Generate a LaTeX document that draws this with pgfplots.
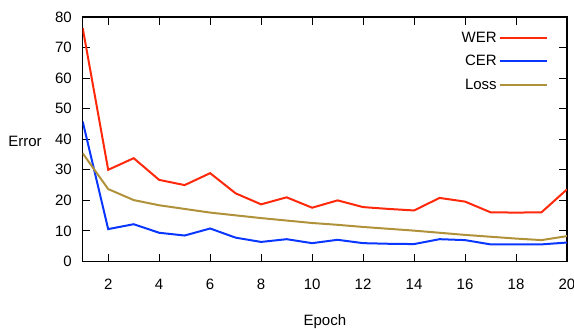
\documentclass[border=0pt]{standalone}
\usepackage{pgfplots}
\pgfplotsset{compat=1.18}
\usepackage{fontspec}
\setmainfont{Liberation Sans}
\definecolor{werc}{RGB}{255,40,10}
\definecolor{cerc}{RGB}{10,55,255}
\definecolor{lossc}{RGB}{176,146,58}
\newcommand{\ff}{\fontsize{15}{18}\selectfont}
\begin{document}
\begin{tikzpicture}[x=1pt,y=1pt]
\path[use as bounding box] (0,0) rectangle (574,329);
\begin{axis}[
  at={(82.7pt,67.5pt)}, anchor=south west,
  scale only axis, width=484.3pt, height=244.5pt,
  xmin=1, xmax=20, ymin=0, ymax=80,
  xtick={2,4,...,20}, ytick={0,10,...,80},
  tick align=inside, major tick length=7.5pt,
  axis line style={line width=1.1pt},
  every tick/.style={line width=0.9pt, black},
  font=\ff,
  /pgf/number format/assume math mode=true,
  ticklabel style={inner sep=0pt, font=\ff},
  xticklabel style={anchor=center, yshift=-22.5pt},
  yticklabel style={anchor=east, xshift=-10.7pt},
  xlabel={Epoch}, ylabel={Error},
  xlabel style={at={(axis description cs:0.5,-0.247)}, anchor=center, font=\ff, inner sep=0pt},
  ylabel style={at={(axis description cs:-0.119,0.49)}, anchor=center, rotate=-90, font=\ff, inner sep=0pt},
  legend plot pos=right,
  legend cell align=right,
  legend image code/.code={\draw[#1] (0pt,0pt) -- (47pt,0pt);},
  legend style={draw=none, fill=none, at={(axis cs:19.37,76.5)}, anchor=north east,
    font=\ff, row sep=7.6pt},
]
\addplot[color=werc, line width=2pt] coordinates {
(1,76.4)(2,30.0)(3,33.8)(4,26.7)(5,25.0)(6,28.9)(7,22.3)(8,18.7)(9,21.0)(10,17.6)
(11,20.0)(12,17.8)(13,17.2)(14,16.7)(15,20.8)(16,19.6)(17,16.1)(18,16.0)(19,16.1)(20,23.6)};
\addlegendentry{WER}
\addplot[color=cerc, line width=2pt] coordinates {
(1,45.8)(2,10.6)(3,12.2)(4,9.4)(5,8.5)(6,10.8)(7,7.8)(8,6.4)(9,7.3)(10,6.0)
(11,7.1)(12,6.0)(13,5.8)(14,5.7)(15,7.3)(16,7.0)(17,5.6)(18,5.6)(19,5.6)(20,6.2)};
\addlegendentry{CER}
\addplot[color=lossc, line width=2pt] coordinates {
(1,35.4)(2,23.7)(3,20.1)(4,18.4)(5,17.2)(6,16.0)(7,15.1)(8,14.2)(9,13.4)(10,12.6)
(11,12.0)(12,11.3)(13,10.7)(14,10.1)(15,9.4)(16,8.7)(17,8.1)(18,7.5)(19,7.0)(20,8.3)};
\addlegendentry{Loss}
\end{axis}
\end{tikzpicture}
\end{document}
